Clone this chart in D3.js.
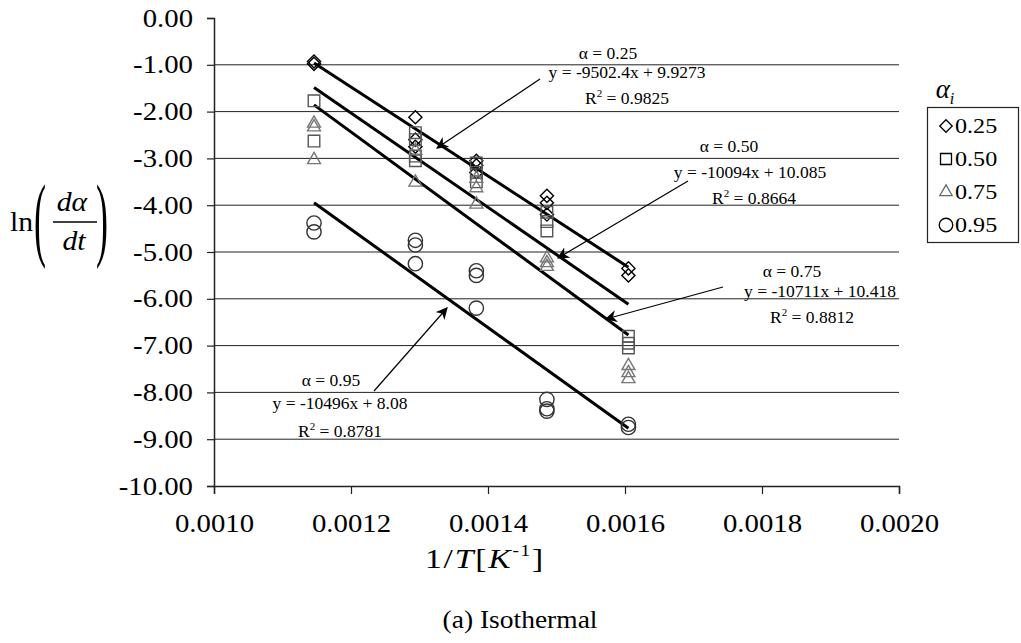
<!DOCTYPE html>
<html>
<head>
<meta charset="utf-8">
<script src="https://cdn.jsdelivr.net/npm/d3@7"></script>
<style>
  body { margin: 0; background: #fff; }
  svg { display: block; font-family: "Liberation Serif", "Times New Roman", serif; }
</style>
</head>
<body>
<svg id="chart" width="1021" height="643"></svg>
<script>
// 1/T values of the five isothermal runs (873, 773, 723, 673, 623 K)
const invT = [0.001146, 0.001294, 0.001383, 0.001486, 0.001605];

// ln(dα/dt) replicates per temperature, one array per conversion level
const a025 = [[-0.93, -0.98], [-2.12, -2.6, -2.75], [-3.05, -3.15, -3.3], [-3.8, -3.95, -4.2], [-5.35, -5.5]];
const a050 = [[-1.77, -2.63], [-2.45, -2.6, -2.95, -3.05], [-3.1, -3.3, -3.5], [-4.15, -4.35, -4.55], [-6.8, -6.95, -7.05]];
const a075 = [[-2.22, -2.3, -3.0], [-2.8, -3.48], [-3.4, -3.6, -3.95], [-5.1, -5.2, -5.28], [-7.4, -7.55, -7.68]];
const a095 = [[-4.38, -4.57], [-4.75, -4.85, -5.25], [-5.4, -5.5, -6.2], [-8.15, -8.35, -8.4], [-8.68, -8.75]];

// linear fits shown on the chart
const seriesNames = ['0.25', '0.50', '0.75', '0.95'];
const slopes = [-9502.4, -10094, -10711, -10496];
const intercepts = [9.9273, 10.085, 10.418, 8.08];
const eqLabels = ['y = -9502.4x + 9.9273', 'y = -10094x + 10.085', 'y = -10711x + 10.418', 'y = -10496x + 8.08'];
const r2Labels = ['0.9825', '0.8664', '0.8812', '0.8781'];

const xTicks = [0.0010, 0.0012, 0.0014, 0.0016, 0.0018, 0.0020];
const yTicks = d3.range(0, -11, -1);

const svg = d3.select('#chart');
const x = d3.scaleLinear().domain([0.001, 0.002]).range([214, 899]);
const y = d3.scaleLinear().domain([-10, 0]).range([486, 18]);
const SX = 1.15; // big labels in the original are a bit wider than Times

function txt(g, px, py, str, size, anchor, sx) {
    return g.append('text')
        .attr('transform', `translate(${px},${py}) scale(${sx || 1},1)`)
        .attr('text-anchor', anchor || 'middle')
        .attr('font-size', size)
        .attr('fill', '#000')
        .text(str);
}

// grid lines
svg.append('g').selectAll('line')
    .data(yTicks.filter(d => d < 0 && d > -10))
    .join('line')
    .attr('x1', x(0.001)).attr('x2', x(0.002))
    .attr('y1', d => y(d)).attr('y2', d => y(d))
    .attr('stroke', '#222').attr('stroke-width', 1);

// axes (hyphen minus like the original)
const fmtY = d => d3.format('.2f')(d).replace('−', '-');
const yAxis = svg.append('g').attr('transform', `translate(${x(0.001)},0)`)
    .call(d3.axisLeft(y).tickValues(yTicks).tickSize(7).tickFormat(fmtY));
const xAxis = svg.append('g').attr('transform', `translate(0,${y(-10)})`)
    .call(d3.axisBottom(x).tickValues(xTicks).tickSize(8).tickFormat(d3.format('.4f')));
[yAxis, xAxis].forEach(a => {
    a.select('.domain').attr('stroke', '#222').attr('stroke-width', 1.5);
    a.selectAll('.tick line').attr('stroke', '#222').attr('stroke-width', 1.2);
    a.selectAll('text').attr('font-size', 25).attr('fill', '#000')
        .attr('font-family', '"Liberation Serif", serif');
});
yAxis.selectAll('.tick text')
    .attr('x', null).attr('dy', null)
    .attr('transform', `translate(-21,8) scale(${SX},1)`);
xAxis.selectAll('.tick text')
    .attr('y', null).attr('dy', null)
    .attr('transform', `translate(0,46) scale(${SX},1)`);

// trend lines
const lineG = svg.append('g');
slopes.forEach((m, i) => {
    const x0 = invT[0], x1 = invT[invT.length - 1];
    lineG.append('line')
        .attr('x1', x(x0)).attr('y1', y(m * x0 + intercepts[i]))
        .attr('x2', x(x1)).attr('y2', y(m * x1 + intercepts[i]))
        .attr('stroke', '#000').attr('stroke-width', 3);
});

// marker shapes
const shapes = [
    { sym: d3.symbolDiamond2, size: 110, color: '#000' },
    { sym: d3.symbolSquare2, size: 170, color: '#555' },
    { sym: d3.symbolTriangle2, size: 120, color: '#777' },
    { sym: d3.symbolCircle, size: 160, color: '#333' }
];
const allSeries = [a025, a050, a075, a095];
const ptG = svg.append('g');
allSeries.forEach((ser, i) => {
    const pts = [];
    ser.forEach((col, j) => col.forEach(v => pts.push([invT[j], v])));
    const sh = shapes[i];
    ptG.append('g').selectAll('path').data(pts).join('path')
        .attr('d', d3.symbol().type(sh.sym).size(sh.size))
        .attr('transform', d => `translate(${x(d[0])},${y(d[1])})` + (i === 2 ? ' translate(0,1.5)' : ''))
        .attr('fill', 'none').attr('stroke', sh.color).attr('stroke-width', 1.4);
});

// annotations
const ann = svg.append('g');
const annPos = [
    { ax: 608, ay: 59, ex: 627, ey: 78, rx: 627, ry: 104, from: [540, 79], to: [437, 148] },
    { ax: 729, ay: 152, ex: 750, ey: 178, rx: 754, ry: 204, from: [688, 181], to: [558, 258] },
    { ax: 792, ay: 277, ex: 820, ey: 297, rx: 812, ry: 323, from: [723, 287], to: [606, 319] },
    { ax: 331, ay: 386, ex: 340, ey: 409, rx: 340, ry: 437, from: [374, 391], to: [447, 308] }
];
svg.append('defs').append('marker')
    .attr('id', 'arr').attr('viewBox', '0 0 10 10').attr('refX', 9).attr('refY', 5)
    .attr('markerWidth', 12).attr('markerHeight', 12).attr('markerUnits', 'userSpaceOnUse')
    .attr('orient', 'auto')
    .append('path').attr('d', 'M0,0 L10,5 L0,10 L3,5 Z').attr('fill', '#000');
annPos.forEach((p, i) => {
    txt(ann, p.ax, p.ay, `α = ${seriesNames[i]}`, 17.5);
    txt(ann, p.ex, p.ey, eqLabels[i], 17.5);
    const r = txt(ann, p.rx, p.ry, '', 17.5);
    r.append('tspan').text('R');
    r.append('tspan').attr('font-size', 11).attr('dy', -7).text('2');
    r.append('tspan').attr('dy', 7).text(` = ${r2Labels[i]}`);
    ann.append('line')
        .attr('x1', p.from[0]).attr('y1', p.from[1])
        .attr('x2', p.to[0]).attr('y2', p.to[1])
        .attr('stroke', '#000').attr('stroke-width', 1.2)
        .attr('marker-end', 'url(#arr)');
});

// legend
const leg = svg.append('g');
leg.append('rect').attr('x', 927.5).attr('y', 107.5).attr('width', 91).attr('height', 135)
    .attr('fill', '#fff').attr('stroke', '#222').attr('stroke-width', 1.2);
const legY = [126, 159, 192, 225];
seriesNames.forEach((n, i) => {
    const sh = shapes[i];
    leg.append('path')
        .attr('d', d3.symbol().type(sh.sym).size(sh.size * 0.9))
        .attr('transform', `translate(946,${legY[i]})`)
        .attr('fill', 'none').attr('stroke', i === 2 ? '#666' : '#000').attr('stroke-width', 1.3);
    txt(leg, 955, legY[i] + 7, n, 21, 'start', SX);
});
const at = txt(leg, 945, 98, '', 27);
at.append('tspan').attr('font-style', 'italic').text('α');
at.append('tspan').attr('font-style', 'italic').attr('font-size', 16).attr('dy', 6).text('i');

// y axis label: ln(dα/dt)
const yl = svg.append('g');
txt(yl, 10, 231, 'ln', 27, 'start', 1.1);
yl.append('text').attr('transform', 'translate(34,249) scale(1,2.6)')
    .attr('font-size', 36).text('(');
yl.append('text').attr('transform', 'translate(96,249) scale(1,2.6)')
    .attr('font-size', 36).text(')');
txt(yl, 72, 211, 'dα', 27, 'middle', 1.1).attr('font-style', 'italic');
yl.append('line').attr('x1', 53).attr('x2', 97).attr('y1', 222).attr('y2', 222)
    .attr('stroke', '#000').attr('stroke-width', 1.3);
txt(yl, 74, 250, 'dt', 27, 'middle', 1.1).attr('font-style', 'italic');

// x axis label: 1/T[K^-1]
const xl = txt(svg, 485, 568, '', 28, 'middle', 1.2).attr('letter-spacing', 1.5);
xl.append('tspan').text('1/');
xl.append('tspan').attr('font-style', 'italic').text('T');
xl.append('tspan').text('[');
xl.append('tspan').attr('font-style', 'italic').text('K');
xl.append('tspan').attr('font-size', 16).attr('dy', -12).text('-1');
xl.append('tspan').attr('dy', 12).text(']');

// caption
txt(svg, 520, 628, '(a) Isothermal', 25, 'middle', 1.1);
</script>
</body>
</html>
